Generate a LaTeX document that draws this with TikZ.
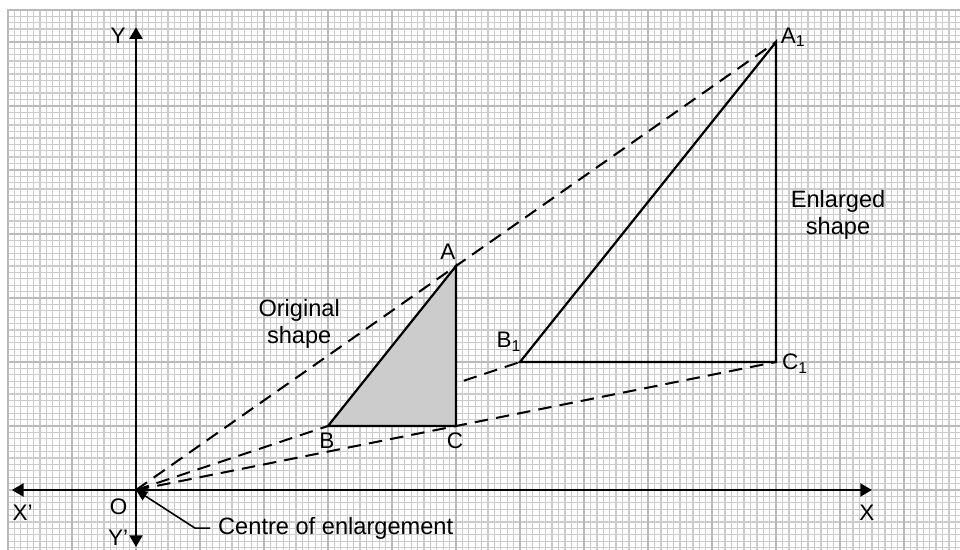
\documentclass[tikz,border=0pt]{standalone}
\usepackage{fontspec}
\setmainfont{Liberation Sans}
\usetikzlibrary{arrows.meta, positioning}

\begin{document}
\begin{tikzpicture}[>={Triangle[length=5.2pt, width=5.8pt]},
  minorgrid/.style={draw=black!20, line width=0.6pt},
  majorgrid/.style={draw=black!27, line width=1.2pt},
  axisline/.style={line width=0.9pt, <->},
  rayline/.style={line width=0.9pt, dash pattern=on 6pt off 3.6pt},
  outline/.style={line width=1pt, line join=miter},
  pointer/.style={line width=0.7pt, -{Triangle[length=5pt, width=4.5pt]}},
  lbl/.style={font=\fontsize{10}{12}\selectfont, inner sep=0pt, anchor=base},
  note/.style={font=\fontsize{10.5}{12}\selectfont, align=center}]
\useasboundingbox (-2.125,-0.9375) rectangle (12.875,7.65625);
% graph paper
\begin{scope}
\clip (-2.125,-0.9375) rectangle (12.875,7.65625);
\draw[minorgrid, step=0.1] (-2,-1) grid (13,7.5);
\draw[majorgrid, step=1] (-2,-1) grid (13,7.5);
\draw[majorgrid] (-2,-1) -- (-2,7.5) -- (13,7.5);
\end{scope}
% points
\coordinate (O) at (0,0);
\coordinate (A) at (5,3.5);
\coordinate (B) at (3,1);
\coordinate (C) at (5,1);
\coordinate (A1) at (10,7);
\coordinate (B1) at (6,2);
\coordinate (C1) at (10,2);
% rays from the centre
\foreach \p in {A1,B1,C1}
  \draw[rayline] (O) -- (\p);
% original and enlarged shapes
\filldraw[outline, fill=black!20] (A) -- (B) -- (C) -- cycle;
\draw[outline] (A1) -- (B1) -- (C1) -- cycle;
% axes
\coordinate (xl) at (-1.94,0);
\coordinate (xr) at (11.5,0);
\coordinate (yt) at (0,7.23);
\coordinate (yb) at (0,-0.89);
\draw[axisline] (xl) -- (xr);
\draw[axisline] (yb) -- (yt);
% labels
\node[lbl] (labA) at (4.875,3.594) {A};
\node[lbl] (labB) at (2.984,0.656) {B};
\node[lbl] (labC) at (4.984,0.656) {C};
\node[lbl] (labA1) at (10.27,6.98) {A\textsubscript{1}};
\node[lbl] (labB1) at (5.83,2.22) {B\textsubscript{1}};
\node[lbl] (labC1) at (10.30,1.875) {C\textsubscript{1}};
\node[lbl] (labY) at (-0.28,6.98) {Y};
\node[lbl] (labO) at (-0.27,-0.39) {O};
\node[lbl] (labYp) at (-0.28,-0.875) {Y’};
\node[lbl] (labXp) at (-1.77,-0.48) {X’};
\node[lbl] (labX) at (11.42,-0.48) {X};
\node[note] (orig) at (2.55,2.59) {Original\\shape};
\node[note] (enl) at (10.97,4.30) {Enlarged\\shape};
\node[note, anchor=base west] (centre) at (1.16,-0.69) {Centre of enlargement};
\draw[pointer] (centre.west) -- ++(-0.24,0) -- (O);
\end{tikzpicture}
\end{document}
